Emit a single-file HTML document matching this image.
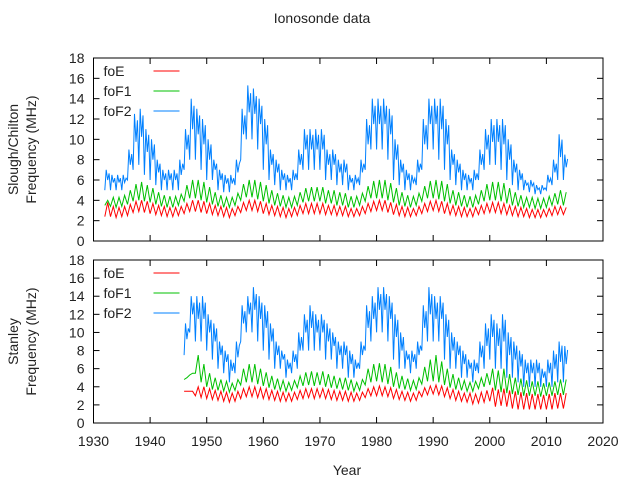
<!DOCTYPE html>
<html><head><meta charset="utf-8"><style>
body{margin:0;background:#fff;}
svg text{font-family:"Liberation Sans",sans-serif;font-size:14px;fill:#222;}
</style></head><body>
<svg id="c" width="644" height="483" xmlns="http://www.w3.org/2000/svg">
<text x="322" y="23" text-anchor="middle">Ionosonde data</text>
<text x="347" y="475" text-anchor="middle">Year</text>
</svg>
<script>
const years = [];
for (let y = 1932; y <= 2013; y++) years.push(y);
const topF2Max=[7,6.5,6.5,6.5,9,12.5,13,11,10,8,7,7,7,8,11,14,13,12,10,8,7,6.5,6.5,8,13,15.3,15,14,12,9,8,7,6.5,7,9,11,11,11,11,9,9,8,8,6.5,6.5,8,12,14,14,14,13,10,8,7,6.5,8,12,14,14,14,12,9,8,7,6.5,7,9,11,12,12,12,10,8,7,6,6,5.5,5.5,6.5,8,10.5,8.5];
const topF2Min=[5,5,5,5,6,7,7.5,6.5,6,5.5,5,5,5,5,7,8,8,7,6,6,5,4.8,4.8,5.5,8,10,10,9,7,6,5.5,5,5,5,6,7,7,7,7,6,6,5.5,5.5,5,5,5.5,7,9,9,9,8,6,5.5,5,5,5.5,7,9,9,8,7,6,5.5,5,5,5,6,7,7.5,7.5,7,6,5.5,5,5,4.8,4.6,4.6,5,5.5,6,6];
const topF1Max=[4,4.3,4.3,4.5,5,5.6,5.8,5.5,5.2,4.8,4.5,4.4,4.4,4.6,5.5,6,6,5.8,5.3,4.8,4.5,4.3,4.3,4.7,5.6,6,6,5.8,5.5,5,4.7,4.5,4.3,4.4,4.8,5.2,5.3,5.3,5.3,5,5,4.8,4.7,4.4,4.4,4.7,5.4,5.9,6,6,5.7,5.2,4.8,4.5,4.4,4.7,5.4,5.9,6,5.9,5.6,5,4.8,4.5,4.4,4.5,5,5.6,5.8,5.8,5.7,5.2,4.8,4.5,4.3,4.3,4.2,4.2,4.4,4.7,5,4.8];
const topF1Min=[3.5,3.4,3.3,3.4,3.6,3.9,4,3.9,3.8,3.6,3.4,3.3,3.3,3.5,3.9,4.2,4.2,4,3.8,3.6,3.4,3.3,3.3,3.5,4,4.3,4.3,4.1,3.9,3.7,3.5,3.4,3.3,3.3,3.5,3.8,3.9,3.9,3.9,3.7,3.7,3.5,3.5,3.3,3.3,3.5,3.9,4.2,4.2,4.2,4,3.8,3.5,3.4,3.3,3.5,3.9,4.2,4.2,4.1,3.9,3.7,3.5,3.4,3.3,3.3,3.6,3.9,4,4,3.9,3.7,3.5,3.4,3.3,3.3,3.2,3.2,3.3,3.5,3.6,3.5];
const topEMax=[3.8,3.4,3.3,3.4,3.6,3.9,4,3.9,3.7,3.5,3.4,3.3,3.3,3.4,3.7,4,4,3.9,3.7,3.5,3.4,3.3,3.2,3.4,3.8,4,4,3.9,3.7,3.5,3.4,3.3,3.2,3.3,3.5,3.7,3.7,3.7,3.7,3.5,3.5,3.4,3.4,3.2,3.2,3.4,3.7,3.9,4,4,3.8,3.6,3.4,3.3,3.2,3.4,3.7,3.9,4,3.9,3.7,3.5,3.4,3.3,3.2,3.3,3.5,3.7,3.8,3.8,3.7,3.5,3.4,3.3,3.2,3.1,3.1,3.1,3.2,3.4,3.4,3.3];
const topEMin=[2.4,2.4,2.3,2.4,2.5,2.8,2.9,2.8,2.7,2.6,2.5,2.4,2.4,2.5,2.7,2.9,2.9,2.8,2.7,2.6,2.5,2.4,2.3,2.5,2.8,3,3,2.9,2.7,2.6,2.5,2.4,2.3,2.4,2.5,2.7,2.7,2.7,2.7,2.6,2.6,2.5,2.5,2.4,2.4,2.5,2.7,2.9,3,3,2.8,2.6,2.5,2.4,2.4,2.5,2.7,2.9,3,2.9,2.7,2.6,2.5,2.4,2.4,2.4,2.6,2.7,2.8,2.8,2.7,2.6,2.5,2.4,2.4,2.3,2.3,2.3,2.4,2.5,2.6,2.6];
const yearsB = [];
for (let y = 1946; y <= 2013; y++) yearsB.push(y);
const botF2Max=[11,14,14,14,12,11,9,8,7,9,13,14,15,14,13,11,9,8,7,8,10,12,13,12,12,11,10,9,9,8,7,9,13,14,15,15,14,12,10,8,8,9,13,15,14,14,12,10,9,8,7,7,9,11,12,11,12,10,9,8,7,7,7,6,7,8,9,8.5];
const botF2Min=[7.5,10,9,9,8,7,6,5.5,4.5,5.5,9,10,10,9,8,7,6,6,5,5.5,6,8,8,8,8,7,7,6,6,5,5,6,8,9,10,10,9,7,6,6,5.5,6,8,9,9,9,7,6,6,5,5,4.5,5.5,6,7,6,6,5,5,4.5,4,4,4,4,4,4,4.5,4.5];
const botF1Max=[5,5.5,7.5,6.5,5.5,5,4.8,4.6,4.4,4.8,6,6.5,6.5,6,5.6,5.2,4.9,4.7,4.5,4.7,5.2,5.6,5.7,5.6,5.7,5.4,5.2,5,5,4.8,4.5,4.8,6,6.5,6.6,6.5,6.2,5.6,5.2,4.9,4.7,5,6.2,7,7.5,6.8,6,5.4,5,4.7,4.5,4.6,5,5.5,6,5.8,6,5.4,5,4.9,4.7,4.6,4.6,4.4,4.5,4.6,4.8,4.8];
const botF1Min=[4.8,5.3,5.5,4.5,4,3.7,3.6,3.5,3.4,3.6,4.2,4.5,4.5,4.3,4.1,3.9,3.7,3.6,3.5,3.6,3.9,4.1,4.2,4.1,4.2,4,3.9,3.8,3.7,3.6,3.5,3.6,4.2,4.5,4.6,4.5,4.3,4,3.8,3.7,3.6,3.7,4.3,4.6,4.6,4.5,4.2,3.9,3.7,3.6,3.5,3.5,3.8,4,4.2,3.6,3.4,3.3,3.2,3.1,3,3,3,2.9,3,3,3.1,3.1];
const botEMax=[3.5,3.5,4,4,3.8,3.6,3.5,3.4,3.3,3.5,3.8,4,4,3.9,3.8,3.6,3.5,3.4,3.3,3.4,3.6,3.8,3.8,3.8,3.8,3.7,3.6,3.5,3.5,3.4,3.3,3.4,3.8,4,4.1,4,3.9,3.7,3.5,3.4,3.3,3.5,3.9,4.1,4.2,4.1,3.9,3.7,3.5,3.3,3.3,3.2,3.4,3.6,3.9,3.7,3.8,3.6,3.5,3.4,3.3,3.2,3.2,3.1,3.2,3.3,3.3,3.3];
const botEMin=[3.5,3.5,3,2.8,2.7,2.6,2.5,2.4,2.3,2.4,2.7,2.9,2.9,2.8,2.7,2.6,2.5,2.4,2.4,2.4,2.6,2.7,2.8,2.7,2.8,2.7,2.6,2.5,2.5,2.4,2.4,2.5,2.8,3,3,3,2.9,2.7,2.6,2.5,2.4,2.5,2.9,3.1,3.2,3.1,2.9,2.7,2.5,2.4,2.3,2.1,2.2,2.3,2.4,1.8,1.9,1.8,1.6,1.5,1.5,1.5,1.5,1.5,1.5,1.5,1.6,1.6];
const xTicks=[1930,1940,1950,1960,1970,1980,1990,2000,2010,2020];
const yTicks=[0,2,4,6,8,10,12,14,16,18];

const NS='http://www.w3.org/2000/svg';
const svg=document.getElementById('c');
const X0=93.5,X1=603;
function xs(yr){return X0+(yr-1930)/90*(X1-X0);}
function mk(tag,attrs){const e=document.createElementNS(NS,tag);for(const k in attrs)e.setAttribute(k,attrs[k]);svg.appendChild(e);return e;}
const colors={E:'#ff0000',F1:'#00c000',F2:'#0080ff'};

function panel(top,bot,title1,title2,pname,yrs,series,showX){
  const ys=v=>bot-v/18*(bot-top);
  const frame=mk('rect',{x:X0,y:top,width:X1-X0,height:bot-top,fill:'none',stroke:'#000','stroke-width':1});
  
  
  yTicks.forEach(v=>{
    const y=ys(v);
    mk('line',{x1:X0,y1:y,x2:X0+6,y2:y,stroke:'#000'});
    mk('line',{x1:X1,y1:y,x2:X1-6,y2:y,stroke:'#000'});
    const t=mk('text',{x:X0-9,y:y+5,'text-anchor':'end'});t.textContent=v;
    
    
  });
  xTicks.forEach(v=>{
    const x=xs(v);
    mk('line',{x1:x,y1:bot,x2:x,y2:bot-6,stroke:'#000'});
    mk('line',{x1:x,y1:top,x2:x,y2:top+6,stroke:'#000'});
    if(showX){const t=mk('text',{x:x,y:bot+23,'text-anchor':'middle'});t.textContent=v;
      
      }
  });
  const cy=(top+bot)/2;
  const g=mk('text',{transform:'translate(18,'+cy+') rotate(-90)','text-anchor':'middle'});
  
  
  const t1=document.createElementNS(NS,'tspan');t1.setAttribute('x',0);t1.setAttribute('y',0);t1.textContent=title1;g.appendChild(t1);
  const t2=document.createElementNS(NS,'tspan');t2.setAttribute('x',0);t2.setAttribute('y',18);t2.textContent=title2;g.appendChild(t2);
  series.forEach((s,si)=>{
    const pts=[];
    yrs.forEach((yr,i)=>{
      if(s.k==='F2'){
        pts.push([yr,s.min[i]],[yr+0.25,s.max[i]],[yr+0.5,(s.min[i]+s.max[i])/2],[yr+0.75,s.max[i]*0.95]);
      }else{
        pts.push([yr,s.min[i]],[yr+0.5,s.max[i]]);
      }
    });
    const d=pts.map((p,j)=>(j?'L':'M')+xs(p[0]).toFixed(1)+' '+ys(p[1]).toFixed(1)).join(' ');
    const path=mk('path',{d:d,fill:'none',stroke:colors[s.k],'stroke-width':1});
    
    
    const ly=top+13+si*20;
    const lt=mk('text',{x:X0+10,y:ly+5});lt.textContent=s.name;
    
    
    const ll=mk('line',{x1:X0+60,y1:ly,x2:X0+86,y2:ly,stroke:colors[s.k]});
    
    
  });
}
panel(58,241,'Slough/Chilton','Frequency (MHz)','top-panel',years,[
  {k:'E',name:'foE',max:topEMax,min:topEMin},
  {k:'F1',name:'foF1',max:topF1Max,min:topF1Min},
  {k:'F2',name:'foF2',max:topF2Max,min:topF2Min}],false);
panel(260,423,'Stanley','Frequency (MHz)','bottom-panel',yearsB,[
  {k:'E',name:'foE',max:botEMax,min:botEMin},
  {k:'F1',name:'foF1',max:botF1Max,min:botF1Min},
  {k:'F2',name:'foF2',max:botF2Max,min:botF2Min}],true);
</script>
</body></html>
